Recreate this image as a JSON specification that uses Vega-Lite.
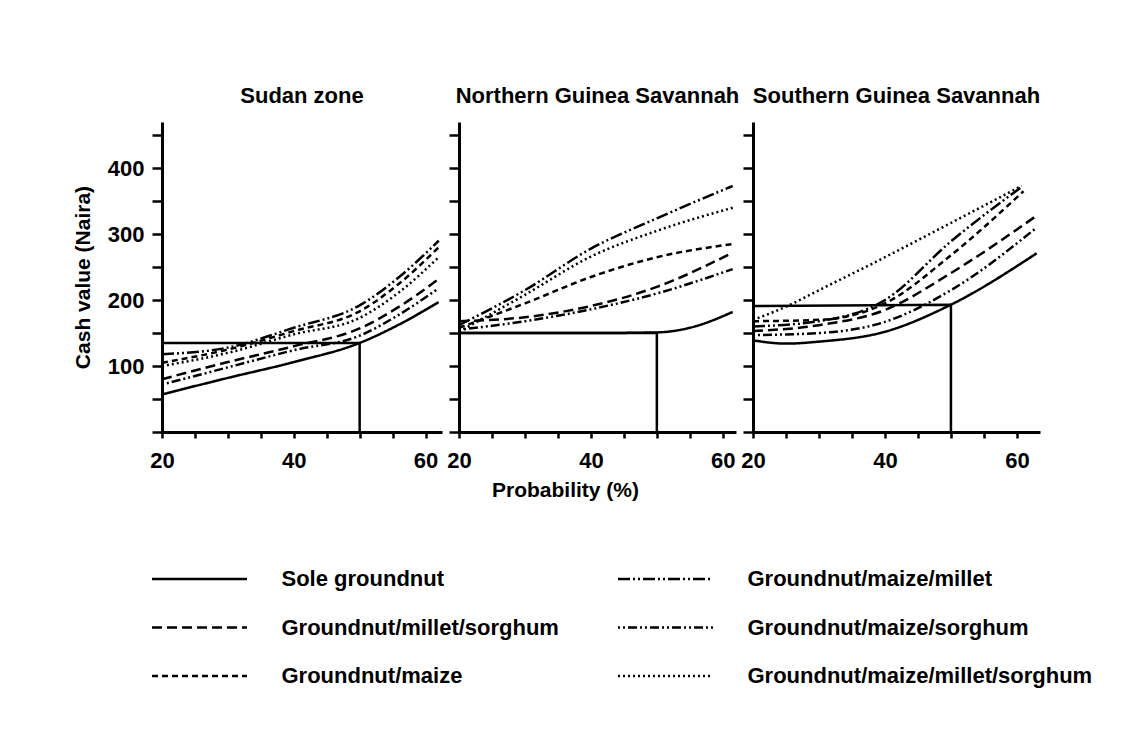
{
  "$schema": "https://vega.github.io/schema/vega-lite/v6.json",
  "autosize": {"type": "none"},
  "padding": {"left": 162, "top": 122, "right": 982, "bottom": 612},
  "background": "white",
  "datasets": {
    "curves": [
      {"zone": "Sudan zone", "system": "Sole groundnut", "p": 20, "v": 57},
      {"zone": "Sudan zone", "system": "Sole groundnut", "p": 30, "v": 82},
      {"zone": "Sudan zone", "system": "Sole groundnut", "p": 40, "v": 106},
      {"zone": "Sudan zone", "system": "Sole groundnut", "p": 50, "v": 135},
      {"zone": "Sudan zone", "system": "Sole groundnut", "p": 56, "v": 163},
      {"zone": "Sudan zone", "system": "Sole groundnut", "p": 62, "v": 197},
      {"zone": "Sudan zone", "system": "Groundnut/millet/sorghum", "p": 20, "v": 80},
      {"zone": "Sudan zone", "system": "Groundnut/millet/sorghum", "p": 30, "v": 106},
      {"zone": "Sudan zone", "system": "Groundnut/millet/sorghum", "p": 40, "v": 130},
      {"zone": "Sudan zone", "system": "Groundnut/millet/sorghum", "p": 50, "v": 157},
      {"zone": "Sudan zone", "system": "Groundnut/millet/sorghum", "p": 56, "v": 190},
      {"zone": "Sudan zone", "system": "Groundnut/millet/sorghum", "p": 62, "v": 232},
      {"zone": "Sudan zone", "system": "Groundnut/maize", "p": 20, "v": 105},
      {"zone": "Sudan zone", "system": "Groundnut/maize", "p": 30, "v": 125},
      {"zone": "Sudan zone", "system": "Groundnut/maize", "p": 40, "v": 153},
      {"zone": "Sudan zone", "system": "Groundnut/maize", "p": 50, "v": 183},
      {"zone": "Sudan zone", "system": "Groundnut/maize", "p": 56, "v": 225},
      {"zone": "Sudan zone", "system": "Groundnut/maize", "p": 62, "v": 280},
      {"zone": "Sudan zone", "system": "Groundnut/maize/millet", "p": 20, "v": 118},
      {"zone": "Sudan zone", "system": "Groundnut/maize/millet", "p": 30, "v": 128},
      {"zone": "Sudan zone", "system": "Groundnut/maize/millet", "p": 40, "v": 158},
      {"zone": "Sudan zone", "system": "Groundnut/maize/millet", "p": 50, "v": 192},
      {"zone": "Sudan zone", "system": "Groundnut/maize/millet", "p": 56, "v": 235},
      {"zone": "Sudan zone", "system": "Groundnut/maize/millet", "p": 62, "v": 290},
      {"zone": "Sudan zone", "system": "Groundnut/maize/sorghum", "p": 20, "v": 72},
      {"zone": "Sudan zone", "system": "Groundnut/maize/sorghum", "p": 30, "v": 98},
      {"zone": "Sudan zone", "system": "Groundnut/maize/sorghum", "p": 40, "v": 124},
      {"zone": "Sudan zone", "system": "Groundnut/maize/sorghum", "p": 50, "v": 146},
      {"zone": "Sudan zone", "system": "Groundnut/maize/sorghum", "p": 56, "v": 178},
      {"zone": "Sudan zone", "system": "Groundnut/maize/sorghum", "p": 62, "v": 218},
      {"zone": "Sudan zone", "system": "Groundnut/maize/millet/sorghum", "p": 20, "v": 100},
      {"zone": "Sudan zone", "system": "Groundnut/maize/millet/sorghum", "p": 30, "v": 120},
      {"zone": "Sudan zone", "system": "Groundnut/maize/millet/sorghum", "p": 40, "v": 148},
      {"zone": "Sudan zone", "system": "Groundnut/maize/millet/sorghum", "p": 50, "v": 173},
      {"zone": "Sudan zone", "system": "Groundnut/maize/millet/sorghum", "p": 56, "v": 212},
      {"zone": "Sudan zone", "system": "Groundnut/maize/millet/sorghum", "p": 62, "v": 265},

      {"zone": "Northern Guinea Savannah", "system": "Sole groundnut", "p": 20, "v": 150},
      {"zone": "Northern Guinea Savannah", "system": "Sole groundnut", "p": 30, "v": 150},
      {"zone": "Northern Guinea Savannah", "system": "Sole groundnut", "p": 40, "v": 150},
      {"zone": "Northern Guinea Savannah", "system": "Sole groundnut", "p": 50, "v": 151},
      {"zone": "Northern Guinea Savannah", "system": "Sole groundnut", "p": 55, "v": 158},
      {"zone": "Northern Guinea Savannah", "system": "Sole groundnut", "p": 61.5, "v": 182},
      {"zone": "Northern Guinea Savannah", "system": "Groundnut/millet/sorghum", "p": 20, "v": 168},
      {"zone": "Northern Guinea Savannah", "system": "Groundnut/millet/sorghum", "p": 30, "v": 174},
      {"zone": "Northern Guinea Savannah", "system": "Groundnut/millet/sorghum", "p": 40, "v": 191},
      {"zone": "Northern Guinea Savannah", "system": "Groundnut/millet/sorghum", "p": 50, "v": 220},
      {"zone": "Northern Guinea Savannah", "system": "Groundnut/millet/sorghum", "p": 61.5, "v": 272},
      {"zone": "Northern Guinea Savannah", "system": "Groundnut/maize", "p": 20, "v": 158},
      {"zone": "Northern Guinea Savannah", "system": "Groundnut/maize", "p": 30, "v": 195},
      {"zone": "Northern Guinea Savannah", "system": "Groundnut/maize", "p": 40, "v": 235},
      {"zone": "Northern Guinea Savannah", "system": "Groundnut/maize", "p": 50, "v": 265},
      {"zone": "Northern Guinea Savannah", "system": "Groundnut/maize", "p": 61.5, "v": 285},
      {"zone": "Northern Guinea Savannah", "system": "Groundnut/maize/millet", "p": 20, "v": 162},
      {"zone": "Northern Guinea Savannah", "system": "Groundnut/maize/millet", "p": 30, "v": 215},
      {"zone": "Northern Guinea Savannah", "system": "Groundnut/maize/millet", "p": 40, "v": 278},
      {"zone": "Northern Guinea Savannah", "system": "Groundnut/maize/millet", "p": 50, "v": 324},
      {"zone": "Northern Guinea Savannah", "system": "Groundnut/maize/millet", "p": 61.5, "v": 373},
      {"zone": "Northern Guinea Savannah", "system": "Groundnut/maize/sorghum", "p": 20, "v": 155},
      {"zone": "Northern Guinea Savannah", "system": "Groundnut/maize/sorghum", "p": 30, "v": 168},
      {"zone": "Northern Guinea Savannah", "system": "Groundnut/maize/sorghum", "p": 40, "v": 186},
      {"zone": "Northern Guinea Savannah", "system": "Groundnut/maize/sorghum", "p": 50, "v": 210},
      {"zone": "Northern Guinea Savannah", "system": "Groundnut/maize/sorghum", "p": 61.5, "v": 247},
      {"zone": "Northern Guinea Savannah", "system": "Groundnut/maize/millet/sorghum", "p": 20, "v": 152},
      {"zone": "Northern Guinea Savannah", "system": "Groundnut/maize/millet/sorghum", "p": 30, "v": 208},
      {"zone": "Northern Guinea Savannah", "system": "Groundnut/maize/millet/sorghum", "p": 40, "v": 266},
      {"zone": "Northern Guinea Savannah", "system": "Groundnut/maize/millet/sorghum", "p": 50, "v": 305},
      {"zone": "Northern Guinea Savannah", "system": "Groundnut/maize/millet/sorghum", "p": 61.5, "v": 340},

      {"zone": "Southern Guinea Savannah", "system": "Sole groundnut", "p": 20, "v": 139},
      {"zone": "Southern Guinea Savannah", "system": "Sole groundnut", "p": 25, "v": 134},
      {"zone": "Southern Guinea Savannah", "system": "Sole groundnut", "p": 30, "v": 137},
      {"zone": "Southern Guinea Savannah", "system": "Sole groundnut", "p": 40, "v": 152},
      {"zone": "Southern Guinea Savannah", "system": "Sole groundnut", "p": 50, "v": 193},
      {"zone": "Southern Guinea Savannah", "system": "Sole groundnut", "p": 63, "v": 271},
      {"zone": "Southern Guinea Savannah", "system": "Groundnut/maize/millet", "p": 20, "v": 160},
      {"zone": "Southern Guinea Savannah", "system": "Groundnut/maize/millet", "p": 30, "v": 168},
      {"zone": "Southern Guinea Savannah", "system": "Groundnut/maize/millet", "p": 40, "v": 200},
      {"zone": "Southern Guinea Savannah", "system": "Groundnut/maize/millet", "p": 50, "v": 289},
      {"zone": "Southern Guinea Savannah", "system": "Groundnut/maize/millet", "p": 60.5, "v": 370},
      {"zone": "Southern Guinea Savannah", "system": "Groundnut/maize", "p": 20, "v": 168},
      {"zone": "Southern Guinea Savannah", "system": "Groundnut/maize", "p": 30, "v": 170},
      {"zone": "Southern Guinea Savannah", "system": "Groundnut/maize", "p": 40, "v": 195},
      {"zone": "Southern Guinea Savannah", "system": "Groundnut/maize", "p": 50, "v": 268},
      {"zone": "Southern Guinea Savannah", "system": "Groundnut/maize", "p": 61, "v": 365},
      {"zone": "Southern Guinea Savannah", "system": "Groundnut/millet/sorghum", "p": 20, "v": 153},
      {"zone": "Southern Guinea Savannah", "system": "Groundnut/millet/sorghum", "p": 30, "v": 162},
      {"zone": "Southern Guinea Savannah", "system": "Groundnut/millet/sorghum", "p": 40, "v": 185},
      {"zone": "Southern Guinea Savannah", "system": "Groundnut/millet/sorghum", "p": 50, "v": 241},
      {"zone": "Southern Guinea Savannah", "system": "Groundnut/millet/sorghum", "p": 63, "v": 328},
      {"zone": "Southern Guinea Savannah", "system": "Groundnut/maize/sorghum", "p": 20, "v": 147},
      {"zone": "Southern Guinea Savannah", "system": "Groundnut/maize/sorghum", "p": 30, "v": 150},
      {"zone": "Southern Guinea Savannah", "system": "Groundnut/maize/sorghum", "p": 40, "v": 167},
      {"zone": "Southern Guinea Savannah", "system": "Groundnut/maize/sorghum", "p": 50, "v": 215},
      {"zone": "Southern Guinea Savannah", "system": "Groundnut/maize/sorghum", "p": 63, "v": 310},
      {"zone": "Southern Guinea Savannah", "system": "Groundnut/maize/millet/sorghum", "p": 20, "v": 170},
      {"zone": "Southern Guinea Savannah", "system": "Groundnut/maize/millet/sorghum", "p": 25, "v": 190},
      {"zone": "Southern Guinea Savannah", "system": "Groundnut/maize/millet/sorghum", "p": 30, "v": 215},
      {"zone": "Southern Guinea Savannah", "system": "Groundnut/maize/millet/sorghum", "p": 40, "v": 265},
      {"zone": "Southern Guinea Savannah", "system": "Groundnut/maize/millet/sorghum", "p": 50, "v": 317},
      {"zone": "Southern Guinea Savannah", "system": "Groundnut/maize/millet/sorghum", "p": 60.7, "v": 373}
    ],
    "refs": [
      {"zone": "Sudan zone", "p": 20, "v": 135, "ord": 1},
      {"zone": "Sudan zone", "p": 50, "v": 135, "ord": 2},
      {"zone": "Sudan zone", "p": 50, "v": 0, "ord": 3},
      {"zone": "Northern Guinea Savannah", "p": 20, "v": 150, "ord": 1},
      {"zone": "Northern Guinea Savannah", "p": 50, "v": 150, "ord": 2},
      {"zone": "Northern Guinea Savannah", "p": 50, "v": 0, "ord": 3},
      {"zone": "Southern Guinea Savannah", "p": 20, "v": 191, "ord": 1},
      {"zone": "Southern Guinea Savannah", "p": 50, "v": 193, "ord": 2},
      {"zone": "Southern Guinea Savannah", "p": 50, "v": 0, "ord": 3}
    ]
  },
  "config": {
    "view": {"stroke": null},
    "font": "Liberation Sans",
    "axis": {
      "domainColor": "black", "domainWidth": 3, "tickColor": "black", "tickWidth": 2.5,
      "labelColor": "black", "labelFont": "Liberation Sans", "labelFontSize": 22, "labelFontWeight": "bold",
      "titleColor": "black", "titleFont": "Liberation Sans", "titleFontSize": 21, "titleFontWeight": "bold",
      "grid": false, "labelFlush": false, "labelOverlap": false
    },
    "axisX": {"tickSize": 6, "labelPadding": 12, "values": [20, 25, 30, 35, 40, 45, 50, 55, 60], "labelExpr": "datum.value % 20 === 0 ? datum.label : ''"},
    "axisY": {"tickSize": 10, "labelPadding": 8, "values": [0, 50, 100, 150, 200, 250, 300, 350, 400, 450]},
    "title": {"font": "Liberation Sans", "fontSize": 22, "fontWeight": "bold", "color": "black", "anchor": "middle", "frame": "group", "offset": 14},
    "legend": {
      "orient": "none", "legendX": -11.5, "legendY": 445, "columns": 2, "direction": "horizontal",
      "symbolType": "stroke", "symbolSize": 9025, "symbolStrokeWidth": 2.5, "symbolStrokeColor": "black",
      "clipHeight": 24, "rowPadding": 24.5, "columnPadding": 57,
      "labelFont": "Liberation Sans", "labelFontSize": 22, "labelFontWeight": "bold", "labelColor": "black",
      "labelOffset": 33, "labelLimit": 500, "title": null
    }
  },
  "bounds": "flush",
  "spacing": 17,
  "resolve": {"scale": {"x": "independent", "y": "shared", "strokeDash": "shared"}},
  "hconcat": [
    {
      "width": 280, "height": 310,
      "title": {"text": "Sudan zone"},
      "layer": [
        {
          "data": {"name": "refs"},
          "transform": [{"filter": "datum.zone === 'Sudan zone'"}],
          "mark": {"type": "line", "color": "black", "strokeWidth": 2.5},
          "encoding": {
            "x": {"field": "p", "type": "quantitative", "scale": {"domain": [20, 62.5], "nice": false, "zero": false}, "axis": {"title": null}},
            "y": {"field": "v", "type": "quantitative", "scale": {"domain": [0, 470], "nice": false}, "axis": {"title": "Cash value (Naira)", "titlePadding": 14, "labelExpr": "datum.value % 100 === 0 && datum.value > 0 ? datum.label : ''"}},
            "order": {"field": "ord", "type": "quantitative"}
          }
        },
        {
          "data": {"name": "curves"},
          "transform": [{"filter": "datum.zone === 'Sudan zone'"}],
          "mark": {"type": "line", "color": "black", "strokeWidth": 2.5, "interpolate": "monotone"},
          "encoding": {
            "x": {"field": "p", "type": "quantitative"},
            "y": {"field": "v", "type": "quantitative"},
            "strokeDash": {
              "field": "system", "type": "nominal",
              "scale": {
                "domain": ["Sole groundnut", "Groundnut/maize/millet", "Groundnut/millet/sorghum", "Groundnut/maize/sorghum", "Groundnut/maize", "Groundnut/maize/millet/sorghum"],
                "range": [[1, 0], [12, 3, 2, 3, 2, 3], [10, 5], [2, 3, 2, 3, 9, 3], [6, 4], [2, 3]]
              }
            }
          }
        }
      ]
    },
    {
      "width": 277, "height": 310,
      "title": {"text": "Northern Guinea Savannah"},
      "layer": [
        {
          "data": {"name": "refs"},
          "transform": [{"filter": "datum.zone === 'Northern Guinea Savannah'"}],
          "mark": {"type": "line", "color": "black", "strokeWidth": 2.5},
          "encoding": {
            "x": {"field": "p", "type": "quantitative", "scale": {"domain": [20, 62], "nice": false, "zero": false}, "axis": {"title": "Probability (%)", "titlePadding": 8, "titleX": 106, "titleAlign": "center"}},
            "y": {"field": "v", "type": "quantitative", "axis": {"labels": false, "title": null}},
            "order": {"field": "ord", "type": "quantitative"}
          }
        },
        {
          "data": {"name": "curves"},
          "transform": [{"filter": "datum.zone === 'Northern Guinea Savannah'"}],
          "mark": {"type": "line", "color": "black", "strokeWidth": 2.5, "interpolate": "monotone"},
          "encoding": {
            "x": {"field": "p", "type": "quantitative"},
            "y": {"field": "v", "type": "quantitative"},
            "strokeDash": {"field": "system", "type": "nominal"}
          }
        }
      ]
    },
    {
      "width": 287, "height": 310,
      "title": {"text": "Southern Guinea Savannah"},
      "layer": [
        {
          "data": {"name": "refs"},
          "transform": [{"filter": "datum.zone === 'Southern Guinea Savannah'"}],
          "mark": {"type": "line", "color": "black", "strokeWidth": 2.5},
          "encoding": {
            "x": {"field": "p", "type": "quantitative", "scale": {"domain": [20, 63.5], "nice": false, "zero": false}, "axis": {"title": null}},
            "y": {"field": "v", "type": "quantitative", "axis": {"labels": false, "title": null}},
            "order": {"field": "ord", "type": "quantitative"}
          }
        },
        {
          "data": {"name": "curves"},
          "transform": [{"filter": "datum.zone === 'Southern Guinea Savannah'"}],
          "mark": {"type": "line", "color": "black", "strokeWidth": 2.5, "interpolate": "monotone"},
          "encoding": {
            "x": {"field": "p", "type": "quantitative"},
            "y": {"field": "v", "type": "quantitative"},
            "strokeDash": {"field": "system", "type": "nominal"}
          }
        }
      ]
    }
  ]
}
